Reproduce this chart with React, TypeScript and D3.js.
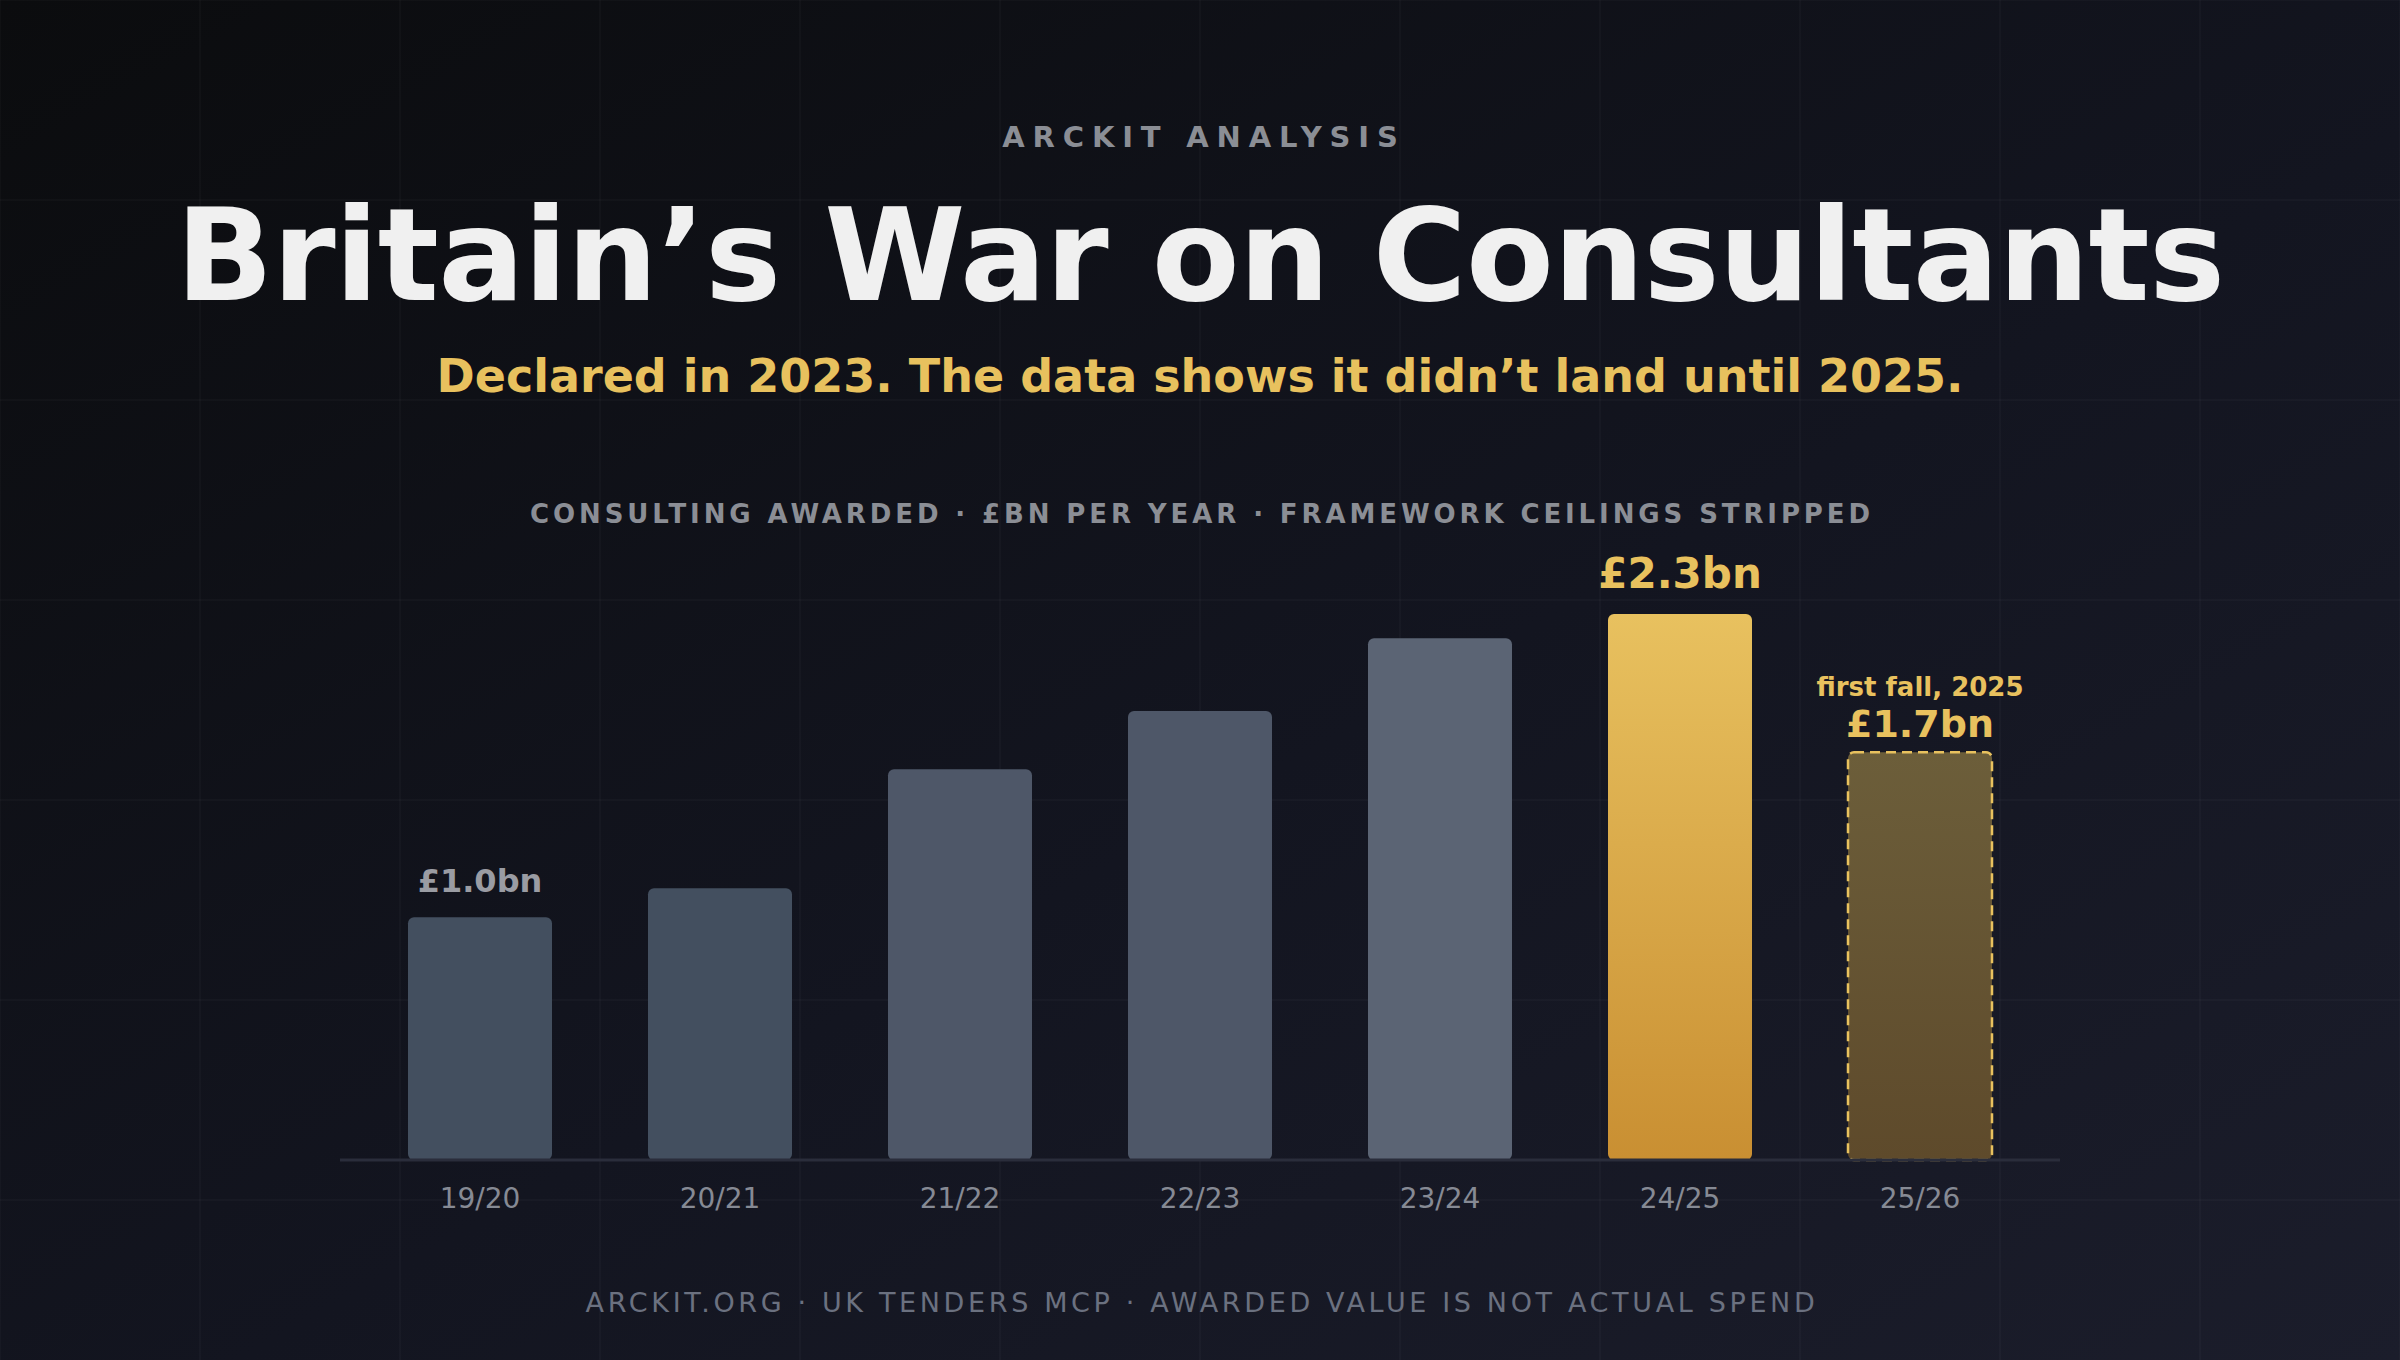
import React, { useEffect } from 'react';
import * as d3 from 'd3';

// fiscal years and consulting awarded (£bn)
const years = ['19/20', '20/21', '21/22', '22/23', '23/24', '24/25', '25/26'];
const awarded = [1.0, 1.12, 1.61, 1.85, 2.15, 2.25, 1.68];
const barFills = ['#434f5f', '#434f5f', '#4e5768', '#4e5768', '#5b6474', 'url(#goldGrad)', 'url(#fallGrad)'];
const labelledYears = ['19/20', '24/25', '25/26'];

const W = 2400;
const H = 1360;
const FONT = '"DejaVu Sans", Verdana, sans-serif';

const App = () => {
  useEffect(() => {
    document.body.style.margin = '0';
    document.body.style.background = '#0c0d10';
  }, []);

  const x = d3.scaleBand<string>().domain(years).range([360, 2040]).paddingInner(0.4).paddingOuter(0.2);
  const y = d3.scaleLinear().domain([0, d3.max(awarded) as number]).range([1160, 614]);

  const gridX = d3.range(0, W + 1, 200);
  const gridY = d3.range(0, H + 1, 200);

  return (
    <svg width={W} height={H} style={{ display: 'block' }} fontFamily={FONT}>
      <defs>
        <linearGradient id="bgGrad" x1="0" y1="0" x2="1" y2="1">
          <stop offset="0%" stopColor="#0b0c0e" />
          <stop offset="55%" stopColor="#131520" />
          <stop offset="100%" stopColor="#1b1d2b" />
        </linearGradient>
        <linearGradient id="goldGrad" x1="0" y1="0" x2="0" y2="1">
          <stop offset="0%" stopColor="#e8c15f" />
          <stop offset="100%" stopColor="#c98f32" />
        </linearGradient>
        <linearGradient id="fallGrad" x1="0" y1="0" x2="0" y2="1">
          <stop offset="0%" stopColor="#6c5e3a" />
          <stop offset="100%" stopColor="#5e4a2b" />
        </linearGradient>
      </defs>

      <rect width={W} height={H} fill="url(#bgGrad)" />
      <g stroke="#ffffff" strokeOpacity={0.022} strokeWidth={2}>
        {gridX.map((gx) => <line key={'gx' + gx} x1={gx} x2={gx} y1={0} y2={H} />)}
        {gridY.map((gy) => <line key={'gy' + gy} x1={0} x2={W} y1={gy} y2={gy} />)}
      </g>

      {/* header */}
      <text x={1204} y={147} textAnchor="middle" fontSize={29} fontWeight="bold" fill="#8b8e95" letterSpacing="0.27em">
        ARCKIT ANALYSIS
      </text>
      <text x={1200} y={300} textAnchor="middle" fontSize={128} fontWeight="bold" fill="#f0f0f0" letterSpacing="-0.8">
        Britain’s War on Consultants
      </text>
      <text x={1200} y={392} textAnchor="middle" fontSize={46} fontWeight="bold" fill="#e8c15e">
        Declared in 2023. The data shows it didn’t land until 2025.
      </text>
      <text x={1202} y={523} textAnchor="middle" fontSize={26} fontWeight="bold" fill="#8b8e95" letterSpacing="0.15em">
        CONSULTING AWARDED · £BN PER YEAR · FRAMEWORK CEILINGS STRIPPED
      </text>

      {/* bars */}
      {years.map((yr, i) => {
        const v = awarded[i];
        const last = i === years.length - 1;
        return (
          <rect
            key={yr}
            x={x(yr)}
            y={y(v)}
            width={x.bandwidth()}
            height={y(0) - y(v)}
            rx={6}
            fill={barFills[i]}
            stroke={last ? '#e8c15e' : 'none'}
            strokeWidth={last ? 2.5 : 0}
            strokeDasharray={last ? '10 6' : undefined}
          />
        );
      })}

      <line x1={340} x2={2060} y1={1160} y2={1160} stroke="#2a2d3b" strokeWidth={3} />

      {/* value labels */}
      {years.map((yr, i) => {
        if (!labelledYears.includes(yr)) return null;
        const v = awarded[i];
        const cx = (x(yr) as number) + x.bandwidth() / 2;
        const isPeak = yr === '24/25';
        const isFall = yr === '25/26';
        return (
          <g key={'lbl' + yr}>
            <text
              x={cx}
              y={y(v) - (isPeak ? 26 : isFall ? 15 : 25)}
              textAnchor="middle"
              fontWeight="bold"
              fontSize={isPeak ? 42 : isFall ? 38 : 32}
              fill={isPeak || isFall ? '#e8c15e' : '#9a9ca3'}
            >
              {'£' + v.toFixed(1) + 'bn'}
            </text>
            {isFall && (
              <text x={cx} y={y(v) - 56} textAnchor="middle" fontWeight="bold" fontSize={26} fill="#e8c15e">
                first fall, 2025
              </text>
            )}
          </g>
        );
      })}

      {/* x axis labels */}
      {years.map((yr) => (
        <text key={'x' + yr} x={(x(yr) as number) + x.bandwidth() / 2} y={1208} textAnchor="middle" fontSize={28} fill="#868a94">
          {yr}
        </text>
      ))}

      <text x={1202} y={1312} textAnchor="middle" fontSize={27} fill="#6b7180" letterSpacing="0.135em">
        ARCKIT.ORG · UK TENDERS MCP · AWARDED VALUE IS NOT ACTUAL SPEND
      </text>
    </svg>
  );
};

export default App;
